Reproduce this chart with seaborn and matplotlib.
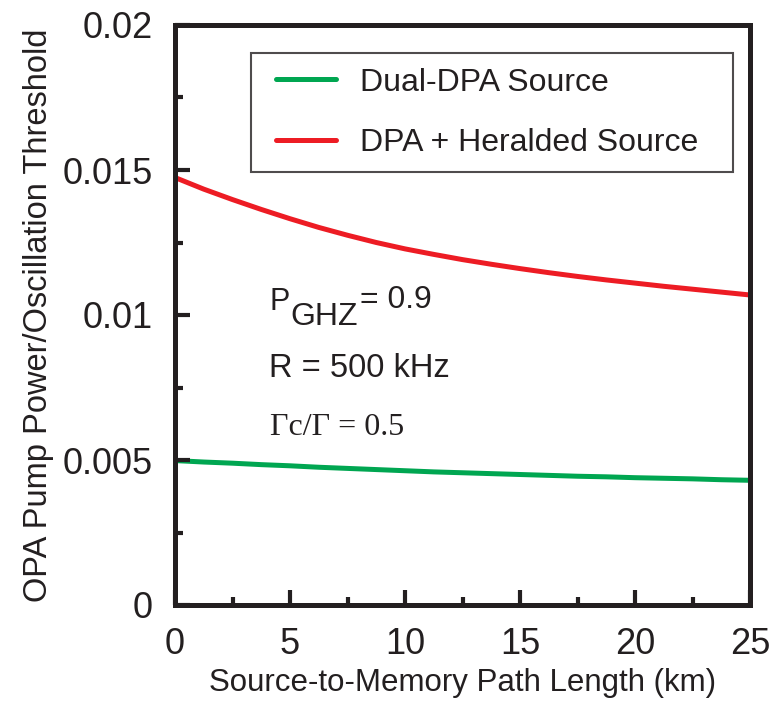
import numpy as np
import pandas as pd
import matplotlib
matplotlib.use("Agg")
import matplotlib.pyplot as plt
from matplotlib.ticker import FuncFormatter
from matplotlib.legend_handler import HandlerLine2D
from matplotlib.lines import Line2D
import seaborn as sns

# data (km, threshold ratio)
distance_km = [0, 1.25, 2.5, 3.75, 5, 6.25, 7.5, 8.75, 10, 11.25, 12.5,
               13.75, 15, 16.25, 17.5, 18.75, 20, 21.25, 22.5, 23.75, 25]
dual_dpa = [0.00498, 0.00493, 0.00489, 0.00484, 0.00480, 0.00475, 0.00471,
            0.00467, 0.00463, 0.00459, 0.00456, 0.00453, 0.00450, 0.00447,
            0.00444, 0.00442, 0.00439, 0.00437, 0.00435, 0.00432, 0.00430]
dpa_heralded = [0.01474, 0.01434, 0.01398, 0.01364, 0.01332, 0.01302, 0.01275,
                0.01250, 0.01228, 0.01209, 0.01191, 0.01175, 0.01160, 0.01146,
                0.01133, 0.01121, 0.01110, 0.01099, 0.01089, 0.01079, 0.01069]
series_names = ["Dual-DPA Source", "DPA + Heralded Source"]
x_major = [0, 5, 10, 15, 20, 25]
x_minor = [2.5, 7.5, 12.5, 17.5, 22.5]
y_major = [0, 0.005, 0.01, 0.015, 0.02]
y_minor = [0.0025, 0.0075, 0.0125, 0.0175]

ink = '#231F20'
sns.set_style("ticks", {
    'xtick.direction': 'in', 'ytick.direction': 'in',
    'xtick.color': ink, 'ytick.color': ink,
})
plt.rcParams['font.family'] = ['Liberation Sans', 'DejaVu Sans']
plt.rcParams.update({
    'xtick.major.size': 11, 'xtick.minor.size': 5.5,
    'ytick.major.size': 11, 'ytick.minor.size': 6,
    'xtick.major.width': 3, 'xtick.minor.width': 3,
    'ytick.major.width': 3, 'ytick.minor.width': 3,
    'xtick.major.pad': 16, 'ytick.major.pad': 16,
    'xtick.labelsize': 26, 'ytick.labelsize': 26,
})

df = pd.DataFrame({
    'km': distance_km * 2,
    'val': dual_dpa + dpa_heralded,
    'src': [series_names[0]] * len(distance_km) + [series_names[1]] * len(distance_km),
})

fig = plt.figure(figsize=(7.8, 7.01), dpi=100)
ax = fig.add_axes([175 / 780, 96 / 701, 575 / 780, 580 / 701])

sns.lineplot(data=df, x='km', y='val', hue='src', palette=['#00A651', '#ED1C24'],
             linewidth=3.6, ax=ax, legend=True)

ax.set_axisbelow(False)
ax.set_xlim(0, 25)
ax.set_ylim(0, 0.02)
ax.set_xticks(x_major)
ax.set_xticks(x_minor, minor=True)
ax.set_yticks(y_major)
ax.set_yticks(y_minor, minor=True)
ax.yaxis.set_major_formatter(FuncFormatter(lambda v, p: '%g' % v))
ax.xaxis.set_major_formatter(FuncFormatter(lambda v, p: '%g' % v))
ax.tick_params(axis='both', which='both', top=False, right=False,
               left=True, bottom=True, labelcolor=ink)

for s in ax.spines.values():
    s.set_visible(True)
    s.set_linewidth(3.6)
    s.set_color(ink)

ax.set_xlabel('Source-to-Memory Path Length (km)', fontsize=22.5, color=ink, labelpad=4)
ax.set_ylabel('OPA Pump Power/Oscillation Threshold', fontsize=23.5, color=ink, labelpad=6)

handles, labels = ax.get_legend_handles_labels()
leg = ax.legend(handles, labels, loc='upper left',
                bbox_to_anchor=(76 / 575, 546 / 580, 482 / 575, 0.01), mode='expand',
                borderaxespad=0, fontsize=23, frameon=True, fancybox=False,
                edgecolor=ink, handlelength=2.2, handletextpad=0.75,
                labelspacing=0.95, borderpad=0.45,
                handler_map={Line2D: HandlerLine2D(xpad=0.33)})
leg.get_frame().set_linewidth(1.5)
for t in leg.get_texts():
    t.set_color(ink)

# parameter notes
ax.text(4.09, 0.01017, 'P', fontsize=22, color=ink, va='baseline')
ax.text(5.0, 0.00966, 'GHZ', fontsize=23, color=ink, va='baseline')
ax.text(8.04, 0.01024, '= 0.9', fontsize=23, color=ink, va='baseline')
ax.text(4.09, 0.00786, 'R = 500 kHz', fontsize=23.5, color=ink, va='baseline')
ax.text(4.15, 0.00586, '\u0393c/\u0393 = 0.5', fontsize=23, color=ink, va='baseline',
        family=['Liberation Serif', 'DejaVu Serif'])

fig.savefig('out.png', dpi=100)
